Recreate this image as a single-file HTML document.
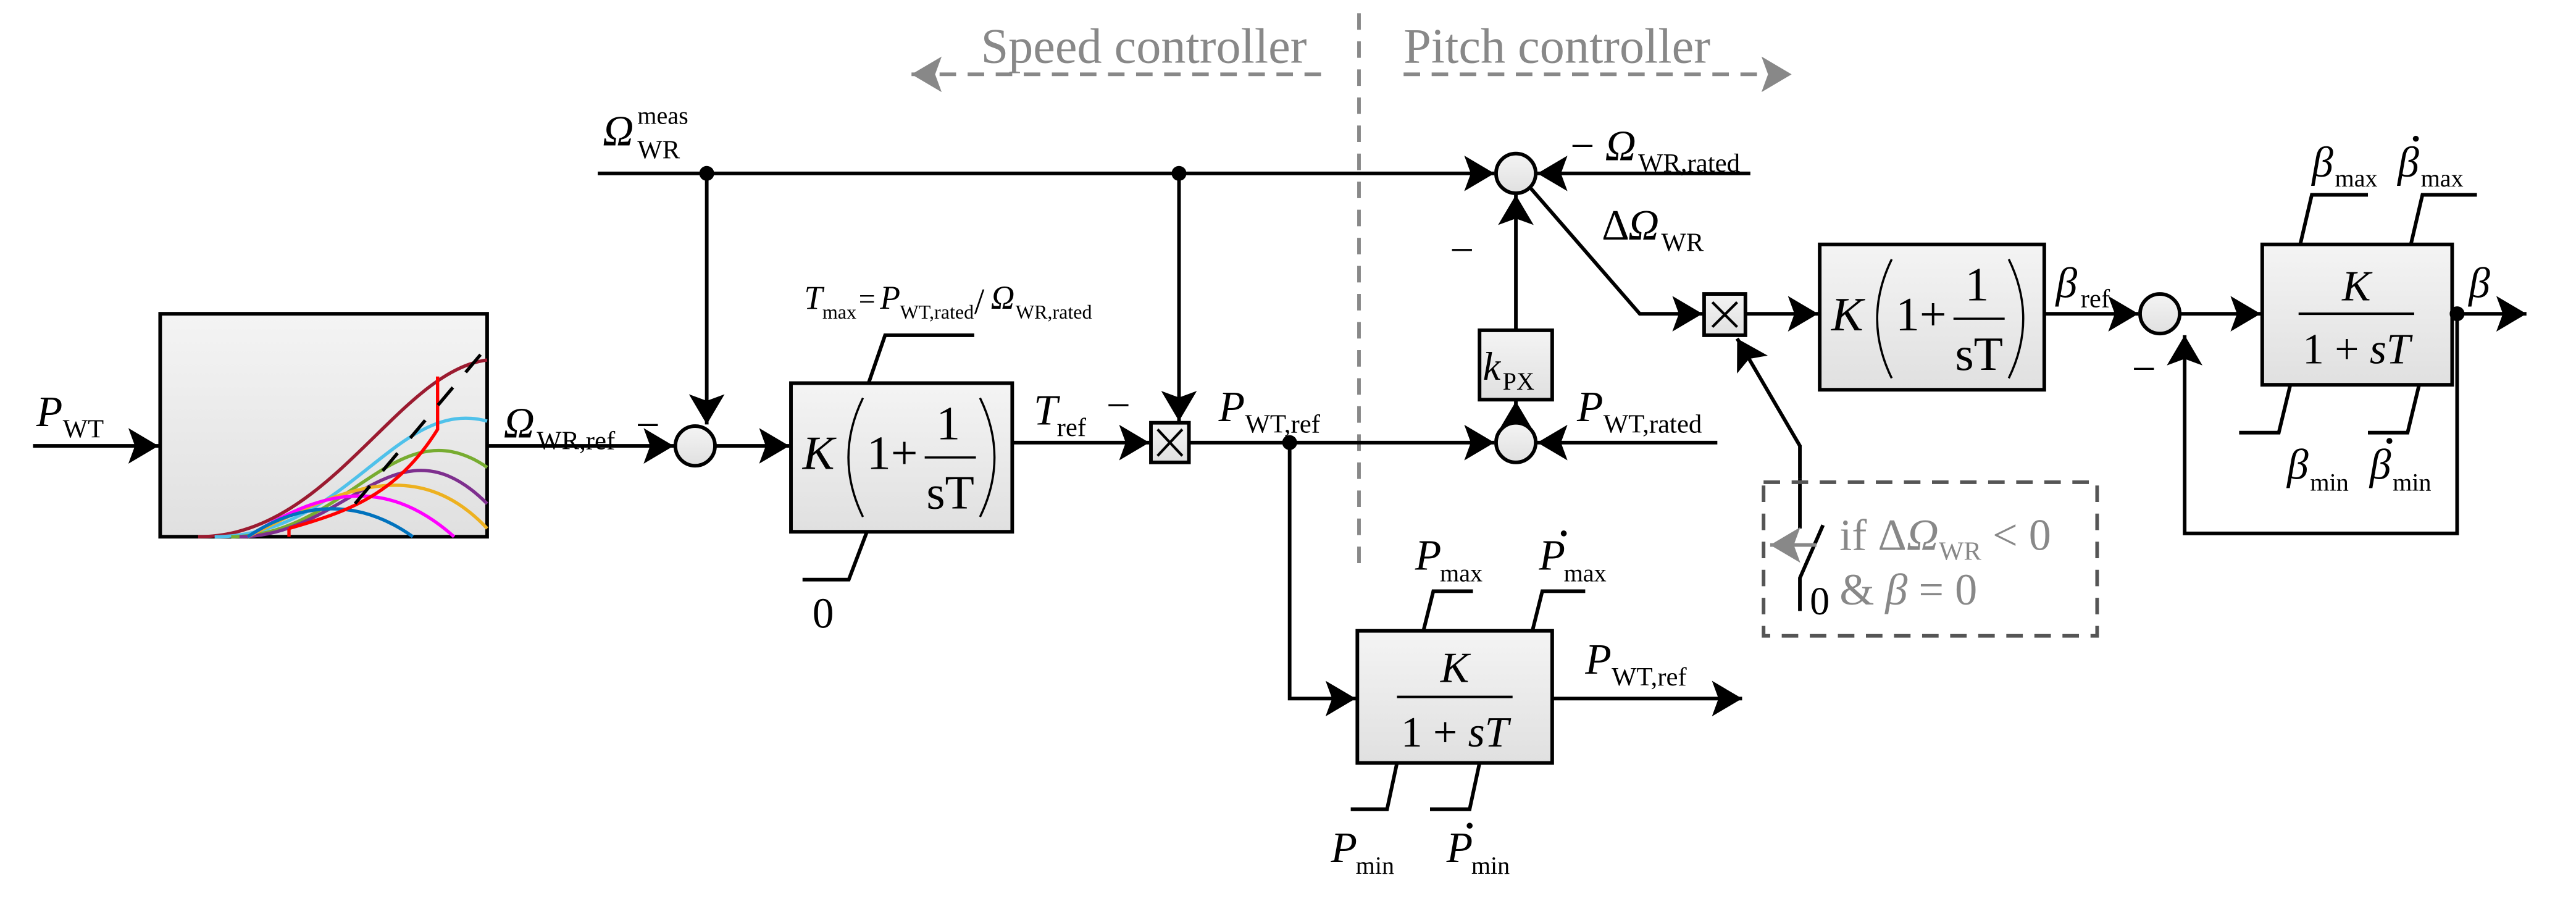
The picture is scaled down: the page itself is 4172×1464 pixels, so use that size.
<!DOCTYPE html>
<html><head><meta charset="utf-8"><style>html,body{margin:0;padding:0;background:#fff}svg{display:block}</style></head><body>
<svg width="4172" height="1464" viewBox="0 0 1560 547.4" preserveAspectRatio="none" xmlns="http://www.w3.org/2000/svg" font-family="Liberation Serif, serif">
<defs>
<marker id="a" markerWidth="10" markerHeight="10" refX="8.3" refY="4.9" orient="auto" markerUnits="strokeWidth"><path d="M0,0 L8.3,4.9 L0,9.8 L1.8,4.9z" fill="#000"/></marker>
<marker id="g" markerWidth="10" markerHeight="10" refX="8.3" refY="4.9" orient="auto" markerUnits="strokeWidth"><path d="M0,0 L8.3,4.9 L0,9.8 L1.8,4.9z" fill="#888"/></marker>
<linearGradient id="bg" x1="0" y1="0" x2="0" y2="1"><stop offset="0" stop-color="#f4f4f4"/><stop offset="1" stop-color="#e0e0e0"/></linearGradient>
</defs>
<g fill="none" stroke="#000" stroke-width="2.2">
<g stroke="#888" stroke-dasharray="10,7">
<line x1="823" y1="8" x2="823" y2="345"/>
<line x1="800" y1="45" x2="552" y2="45" marker-end="url(#g)"/>
<line x1="850" y1="45" x2="1085" y2="45" marker-end="url(#g)"/>
</g>
<line x1="362" y1="105" x2="905" y2="105" marker-end="url(#a)"/>
<line x1="1060" y1="105" x2="931" y2="105" marker-end="url(#a)"/>
<line x1="428" y1="105" x2="428" y2="257" marker-end="url(#a)"/>
<line x1="714" y1="105" x2="714" y2="255" marker-end="url(#a)"/>
<line x1="20" y1="270" x2="96" y2="270" marker-end="url(#a)"/>
<rect x="97" y="190" width="198" height="135" fill="url(#bg)"/>
<line x1="295" y1="270" x2="408" y2="270" marker-end="url(#a)"/>
<line x1="433" y1="270" x2="478" y2="270" marker-end="url(#a)"/>
<rect x="479" y="232" width="134" height="90" fill="url(#bg)"/>
<polyline points="526,232 536,203 590,203"/>
<polyline points="525,322 514,351 486,351"/>
<line x1="613" y1="268" x2="696" y2="268" marker-end="url(#a)"/>
<rect x="697" y="256" width="23" height="24" fill="url(#bg)"/>
<line x1="720" y1="268" x2="905" y2="268" marker-end="url(#a)"/>
<line x1="1040" y1="268" x2="931" y2="268" marker-end="url(#a)"/>
<polyline points="781,268 781,423 821,423" marker-end="url(#a)"/>
<rect x="822" y="382" width="118" height="80" fill="url(#bg)"/>
<line x1="940" y1="423" x2="1055" y2="423" marker-end="url(#a)"/>
<polyline points="862,382 868,358 892,358"/>
<polyline points="928,382 934,358 960,358"/>
<polyline points="846,462 840,490 818,490"/>
<polyline points="896,462 890,490 866,490"/>
<line x1="918" y1="256" x2="918" y2="243" marker-end="url(#a)"/>
<rect x="896" y="200" width="44" height="42" fill="url(#bg)"/>
<line x1="918" y1="200" x2="918" y2="118" marker-end="url(#a)"/>
<circle cx="918" cy="105" r="12" fill="url(#bg)"/>
<circle cx="918" cy="268" r="12" fill="url(#bg)"/>
<circle cx="421" cy="270" r="12" fill="url(#bg)"/>
<polyline points="927,114 993,190 1031,190" marker-end="url(#a)"/>
<rect x="1032" y="178" width="25" height="25" fill="url(#bg)"/>
<line x1="1057" y1="190" x2="1101" y2="190" marker-end="url(#a)"/>
<rect x="1102" y="148" width="136" height="88" fill="url(#bg)"/>
<line x1="1238" y1="190" x2="1295" y2="190" marker-end="url(#a)"/>
<circle cx="1308" cy="190" r="12" fill="url(#bg)"/>
<line x1="1320" y1="190" x2="1369" y2="190" marker-end="url(#a)"/>
<rect x="1370" y="148" width="115" height="85" fill="url(#bg)"/>
<line x1="1485" y1="190" x2="1530" y2="190" marker-end="url(#a)"/>
<polyline points="1488,190 1488,323 1323,323 1323,203" marker-end="url(#a)"/>
<polyline points="1393,148 1400,118 1434,118"/>
<polyline points="1460,148 1467,118 1500,118"/>
<polyline points="1387,233 1380,262 1356,262"/>
<polyline points="1465,233 1458,262 1434,262"/>
<polyline points="1090,290 1090,270 1052,205" marker-end="url(#a)"/>
<line x1="1090" y1="290" x2="1090" y2="320"/>
<polyline points="1090,370 1090,350 1104,318"/>
<g stroke="#555" stroke-dasharray="10,7"><rect x="1068" y="292" width="202" height="93"/></g>
<line x1="1100" y1="330" x2="1072" y2="330" stroke="#888" marker-end="url(#g)"/>
<g stroke-width="1.6">
<line x1="701" y1="260" x2="716" y2="276"/><line x1="716" y1="260" x2="701" y2="276"/>
<line x1="1037" y1="183" x2="1052" y2="198"/><line x1="1052" y1="183" x2="1037" y2="198"/>
</g>
<g stroke-width="1.3">
<path d="M522.6,241 Q505,277 522.6,313"/><path d="M593.5,241 Q611,277 593.5,313"/>
<line x1="560" y1="277" x2="591" y2="277"/>
<g transform="translate(623,-84)"><path d="M522.6,241 Q505,277 522.6,313"/><path d="M593.5,241 Q611,277 593.5,313"/><line x1="560" y1="277" x2="591" y2="277"/></g>
</g>
<g stroke-width="2">
<path d="M120,325 C200,325 240,225 295,218" stroke="#9b1b30"/>
<path d="M130,325 C210,325 240,240 295,255" stroke="#4fc1ea"/>
<path d="M140,325 C210,325 240,245 295,283" stroke="#77ac30"/>
<path d="M145,325 C210,325 240,250 295,305" stroke="#7e2f8e"/>
<path d="M150,325 C200,300 250,272 295,320" stroke="#edb120"/>
<path d="M150,325 C190,300 230,285 275,325" stroke="#ff00ff"/>
<path d="M150,325 C180,305 215,300 250,325" stroke="#0072bd"/>
<path d="M175,320 C210,310 240,300 265,260 L265,228 M175,320 L175,325" stroke="#f00"/>
<line x1="215" y1="305" x2="295" y2="210" stroke="#000" stroke-dasharray="14,12"/>
</g>
</g>
<g fill="#000">
<circle cx="428" cy="105" r="4.5"/><circle cx="714" cy="105" r="4.5"/><circle cx="781" cy="268" r="4.5"/><circle cx="1488" cy="190" r="4.5"/>
<circle cx="947" cy="323" r="1.8"/><circle cx="1463" cy="84" r="1.8"/><circle cx="890" cy="500" r="1.8"/><circle cx="1447" cy="267" r="1.8"/>
</g>
<g font-size="26" fill="#000">
<text x="594" y="38" fill="#888" font-size="30">Speed controller</text>
<text x="850" y="38" fill="#888" font-size="30">Pitch controller</text>
<text x="365" y="88" font-style="italic">Ω</text><text x="386" y="75" font-size="15">meas</text><text x="386" y="96" font-size="16">WR</text>
<text x="22" y="258" font-style="italic">P</text><text x="38" y="265" font-size="16">WT</text>
<text x="305" y="265" font-style="italic">Ω</text><text x="325" y="272" font-size="16">WR,ref</text>
<text x="385" y="266">−</text>
<text x="487" y="187" font-style="italic" font-size="20">T</text><text x="498" y="193" font-size="12">max</text>
<text x="520" y="187" font-size="18">=</text><text x="533" y="187" font-style="italic" font-size="20">P</text><text x="545" y="193" font-size="12">WT,rated</text>
<text x="590" y="190" font-size="22">/</text><text x="600" y="187" font-style="italic" font-size="20">Ω</text><text x="615" y="193" font-size="12">WR,rated</text>
<g font-size="29"><text x="486" y="284" font-style="italic">K</text><text x="525" y="284">1+</text><text x="567" y="266">1</text><text x="561" y="308">sT</text></g>
<text x="492" y="380" font-size="26">0</text>
<text x="626" y="257" font-style="italic">T</text><text x="640" y="264" font-size="16">ref</text>
<text x="670" y="254">−</text>
<text x="738" y="255" font-style="italic">P</text><text x="754" y="262" font-size="16">WT,ref</text>
<text x="951" y="97">−</text><text x="972" y="97" font-style="italic">Ω</text><text x="992" y="104" font-size="16">WR,rated</text>
<text x="878" y="160">−</text>
<text x="898" y="230" font-style="italic" font-size="24">k</text><text x="910" y="236" font-size="15">PX</text>
<text x="955" y="255" font-style="italic">P</text><text x="971" y="262" font-size="16">WT,rated</text>
<text x="970" y="145">Δ</text><text x="986" y="145" font-style="italic">Ω</text><text x="1006" y="152" font-size="16">WR</text>
<g font-size="29" transform="translate(623,-84)"><text x="486" y="284" font-style="italic">K</text><text x="525" y="284">1+</text><text x="567" y="266">1</text><text x="561" y="308">sT</text></g>
<text x="1245" y="180" font-style="italic">β</text><text x="1260" y="186" font-size="16">ref</text>
<text x="1291" y="232">−</text>
<text x="1427" y="182" font-style="italic" text-anchor="middle">K</text><line x1="1392" y1="190" x2="1462" y2="190" stroke="#000" stroke-width="1.5"/>
<text x="1427" y="220" text-anchor="middle">1 + <tspan font-style="italic">sT</tspan></text>
<text x="1495" y="180" font-style="italic">β</text>
<text x="1400" y="107" font-style="italic">β</text><text x="1414" y="113" font-size="15">max</text>
<text x="1452" y="107" font-style="italic">β</text><text x="1466" y="113" font-size="15">max</text>
<text x="1385" y="290" font-style="italic">β</text><text x="1399" y="297" font-size="15">min</text>
<text x="1435" y="290" font-style="italic">β</text><text x="1449" y="297" font-size="15">min</text>
<text x="881" y="413" font-style="italic" text-anchor="middle">K</text><line x1="846" y1="422" x2="916" y2="422" stroke="#000" stroke-width="1.5"/>
<text x="881" y="452" text-anchor="middle">1 + <tspan font-style="italic">sT</tspan></text>
<text x="857" y="345" font-style="italic">P</text><text x="872" y="352" font-size="15">max</text>
<text x="932" y="345" font-style="italic">P</text><text x="947" y="352" font-size="15">max</text>
<text x="960" y="408" font-style="italic">P</text><text x="976" y="415" font-size="16">WT,ref</text>
<text x="806" y="522" font-style="italic">P</text><text x="821" y="529" font-size="15">min</text>
<text x="876" y="522" font-style="italic">P</text><text x="891" y="529" font-size="15">min</text>
<text x="1096" y="372" font-size="24">0</text>
<g fill="#888" font-size="27"><text x="1114" y="333">if Δ<tspan font-style="italic">Ω</tspan><tspan font-size="16" dy="6">WR</tspan><tspan dy="-6"> &lt; 0</tspan></text>
<text x="1114" y="366">&amp; <tspan font-style="italic">β</tspan> = 0</text></g>
</g>
</svg>
</body></html>
